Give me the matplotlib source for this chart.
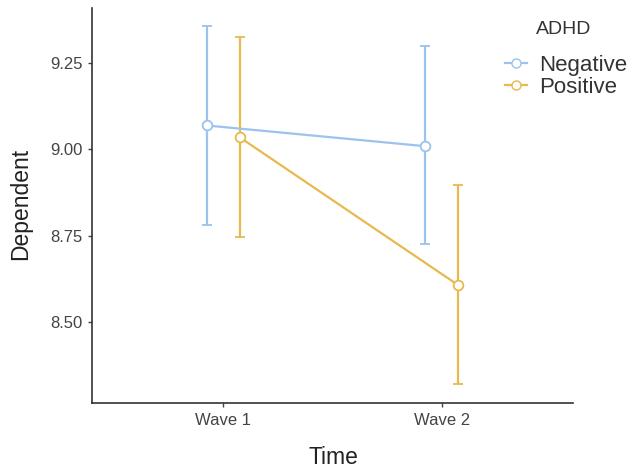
import matplotlib
matplotlib.use("Agg")
import matplotlib.pyplot as plt
import numpy as np

plt.rcParams["font.family"] = ["Liberation Sans", "DejaVu Sans"]

# Data

waves = ["Wave 1", "Wave 2"]
groups = ["Negative", "Positive"]

neg_mean = [9.069, 9.009]
neg_lower = [8.780, 8.725]
neg_upper = [9.357, 9.299]

pos_mean = [9.035, 8.607]
pos_lower = [8.746, 8.320]
pos_upper = [9.325, 8.896]

colors = ["#9cc2ee", "#e8b94c"]
dodge = 0.075


fig = plt.figure(figsize=(6.32, 4.70), dpi=100)
ax = fig.add_axes([0.1456, 0.1426, 0.761, 0.8404])

x = np.arange(1, len(waves) + 1)

series = [
    (neg_mean, neg_lower, neg_upper),
    (pos_mean, pos_lower, pos_upper),
]

for i, (mean, lower, upper) in enumerate(series):
    xs = x + (-dodge if i == 0 else dodge)
    mean = np.array(mean)
    err = [mean - np.array(lower), np.array(upper) - mean]
    ax.errorbar(
        xs, mean, yerr=err,
        color=colors[i], lw=1.6, capsize=3.5, capthick=1.6,
        marker="o", markersize=7, markerfacecolor="white",
        markeredgecolor=colors[i], markeredgewidth=1.3,
        label=groups[i], zorder=3,
    )

ax.set_xlim(0.4, 2.6)
ax.set_ylim(8.266, 9.409)
ax.set_xticks(x)
ax.set_xticklabels(waves)
ax.set_yticks([8.50, 8.75, 9.00, 9.25])
ax.set_yticklabels(["8.50", "8.75", "9.00", "9.25"])

ax.tick_params(labelsize=12, colors="#444444", length=3, width=1, pad=4)
ax.set_xlabel("Time", fontsize=16.5, color="#222222")
ax.set_ylabel("Dependent", fontsize=16.5, color="#222222")
ax.xaxis.set_label_coords(333 / 632, 1 - 446 / 470, transform=fig.transFigure)
ax.yaxis.set_label_coords(32 / 632, 1 - 204 / 470, transform=fig.transFigure)

for side in ["top", "right"]:
    ax.spines[side].set_visible(False)
for side in ["left", "bottom"]:
    ax.spines[side].set_color("#333333")
    ax.spines[side].set_linewidth(1.2)

# Legend

handles = [
    plt.Line2D([], [], color=colors[i], lw=1.6, marker="o", markersize=6.5,
               markerfacecolor="white", markeredgecolor=colors[i])
    for i in range(2)
]
leg = fig.legend(
    handles, groups,
    loc="upper left", bbox_to_anchor=(505 / 632, 1 - 55 / 470),
    frameon=False, fontsize=16, borderpad=0, borderaxespad=0,
    handlelength=1.0, handletextpad=0.55, labelspacing=0.04,
)
for t in leg.get_texts():
    t.set_color("#333333")
fig.text(564 / 632, 1 - 29 / 470, "ADHD", fontsize=14, color="#333333",
         ha="center", va="center")

plt.savefig("out.png", dpi=100)
